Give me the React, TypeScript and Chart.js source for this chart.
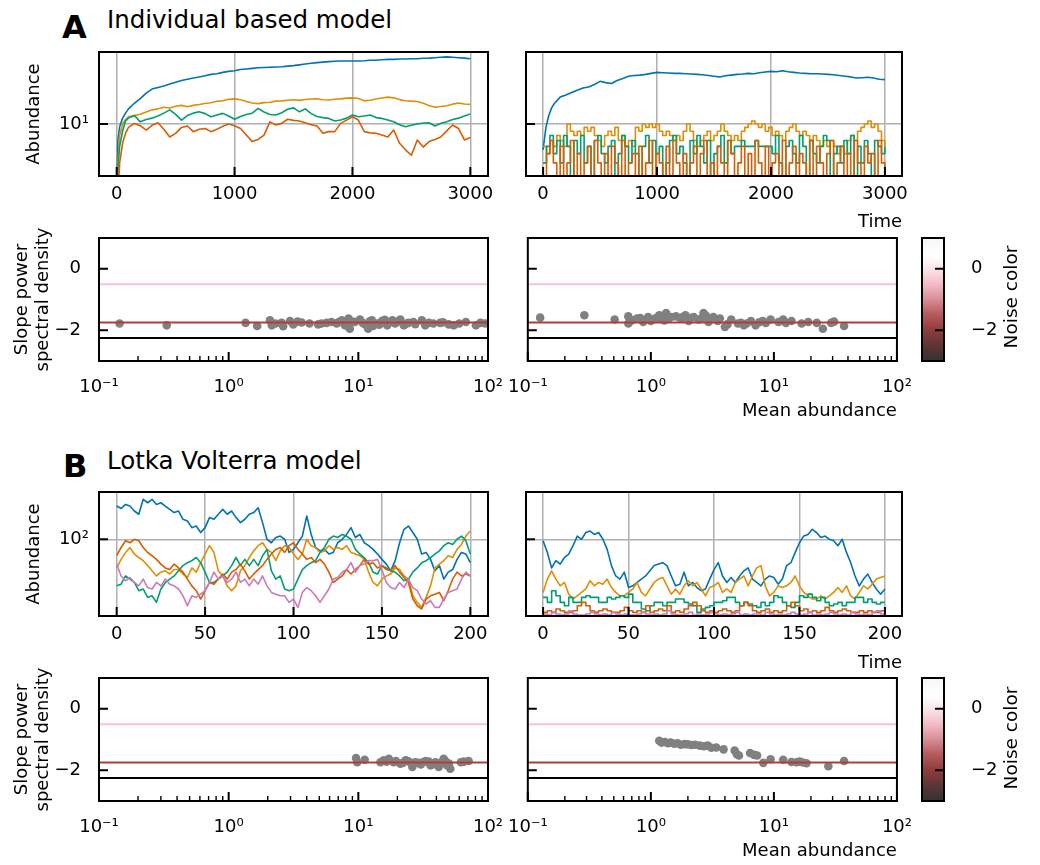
import React, { useEffect, useRef } from 'react';
import { Chart, registerables } from 'chart.js';

Chart.register(...registerables);
Chart.defaults.font.family = "'DejaVu Sans', sans-serif";
Chart.defaults.font.size = 18;
Chart.defaults.color = '#000';

// ---------------- data ----------------
const PALETTE = ['#0173B2', '#DE8F05', '#029E73', '#D55E00', '#CC78BC'];

// Individual based model: time samples
const ibmTimes = [0, 10, 25, 50, 75, 100, 150, 200, 250, 300, 350, 400, 450, 500, 550, 600, 650, 700, 750, 800, 850, 900, 950, 1000, 1050, 1100, 1150, 1200, 1250, 1300, 1350, 1400, 1450, 1500, 1550, 1600, 1650, 1700, 1750, 1800, 1850, 1900, 1950, 2000, 2050, 2100, 2150, 2200, 2250, 2300, 2350, 2400, 2450, 2500, 2550, 2600, 2650, 2700, 2750, 2800, 2850, 2900, 2950, 3000];
const ibmFineTimes = [0, 30, 60, 90, 120, 150, 180, 210, 240, 270, 300, 330, 360, 390, 420, 450, 480, 510, 540, 570, 600, 630, 660, 690, 720, 750, 780, 810, 840, 870, 900, 930, 960, 990, 1020, 1050, 1080, 1110, 1140, 1170, 1200, 1230, 1260, 1290, 1320, 1350, 1380, 1410, 1440, 1470, 1500, 1530, 1560, 1590, 1620, 1650, 1680, 1710, 1740, 1770, 1800, 1830, 1860, 1890, 1920, 1950, 1980, 2010, 2040, 2070, 2100, 2130, 2160, 2190, 2220, 2250, 2280, 2310, 2340, 2370, 2400, 2430, 2460, 2490, 2520, 2550, 2580, 2610, 2640, 2670, 2700, 2730, 2760, 2790, 2820, 2850, 2880, 2910, 2940, 2970, 3000];

const ibmLeftBlue = [1, 6, 9.2, 12, 14, 16, 19, 22, 26, 29.5, 31, 32.5, 34.5, 36.5, 38.5, 40, 41.5, 43, 44.5, 46.5, 47.5, 49.5, 51, 52, 54, 55, 56, 57, 57.5, 58, 58.5, 59, 60, 61, 62.5, 64, 65.5, 67, 68, 69, 70, 70.5, 70.5, 70.5, 70.5, 71, 72, 72, 73, 74, 74, 75, 75, 75.5, 75.5, 76.5, 77, 78, 79, 80, 79, 78, 77, 75.5];
const ibmLeftOrange = [1, 3, 7, 10, 11.5, 12.5, 13, 13.5, 14.5, 15.5, 16, 16.8, 16.4, 17.3, 17.8, 17.1, 17.8, 18.3, 18.9, 19.3, 20.2, 20.5, 21.5, 21.8, 21.2, 20.1, 19.2, 18.8, 19.4, 19.6, 20.3, 20.5, 20.9, 21.2, 20.8, 21.4, 21.7, 21.9, 21.2, 21, 21.5, 21.8, 22.3, 22.5, 22, 20.5, 20.9, 21.7, 22.4, 23, 22.5, 21.3, 20.6, 20.3, 20.1, 19, 17.8, 16.8, 17.2, 17.6, 18.5, 19.2, 18.6, 18.4];
const ibmLeftGreen = [1, 2.5, 5, 8, 11, 12, 13, 10.7, 11.5, 12, 12.8, 14, 15.5, 13.5, 11.3, 13, 14, 14.6, 13.8, 12.5, 13.2, 13.9, 12.8, 11.6, 12.6, 13.4, 14, 16.2, 14.5, 13.4, 13.2, 14.2, 15.8, 16.5, 14.6, 16, 13.8, 12.6, 12.2, 11.9, 11, 11.3, 12, 13.2, 12.5, 12.8, 13.2, 12.2, 11.9, 11.3, 10.7, 9.8, 9.2, 9.6, 10, 10.3, 10.4, 9.4, 10.2, 10.7, 11.5, 12, 12.8, 13.6];
const ibmLeftRed = [1, 1, 3, 5.5, 7.5, 9, 10.2, 9.5, 8.3, 9.6, 10.4, 8.5, 6.7, 7.5, 9, 9.4, 7.9, 8.5, 8.7, 7.9, 8.5, 9.3, 10, 9.5, 8.7, 7.1, 5.8, 6.2, 7.1, 10.7, 9.7, 10.2, 11.6, 11.2, 11, 10.4, 9.8, 9.4, 7.5, 7.9, 7.9, 10.2, 11.3, 12.5, 11.3, 7.9, 7.6, 7.5, 7.1, 6.7, 8.3, 5.5, 4.5, 3.8, 6.1, 4.9, 5.8, 6.2, 6.7, 8.1, 9.7, 8.7, 6.1, 6.6];

const ibmRightBlue = [4.5, 6, 9, 13, 16.5, 19, 23, 24.5, 26.5, 28.5, 30.5, 31.5, 34, 37.5, 36, 35, 38.5, 41, 44, 45, 45.5, 46.5, 48, 49.5, 49, 48.5, 48, 48, 47.5, 47, 46.5, 46, 45, 44, 43, 44.5, 45.5, 46.5, 47, 48, 47.5, 49, 50, 51, 50.5, 52, 50.5, 49.5, 48.5, 48, 47.5, 47.5, 47, 46.5, 46, 45, 44, 43, 41.5, 42, 42.5, 41.5, 40, 39.5];
const ibmRightOrange = [5, 4, 6, 5, 7, 6, 5, 10, 8, 7, 8, 7, 9, 8, 9, 7, 6, 5, 7, 8, 7, 9, 6, 7, 5, 6, 5, 9, 8, 10, 9, 10, 9, 10, 8, 7, 8, 7, 6, 7, 6, 8, 10, 8, 6, 5, 6, 7, 8, 6, 7, 8, 10, 8, 7, 6, 7, 6, 8, 9, 10, 11, 10, 9, 10, 8, 9, 7, 8, 7, 6, 8, 9, 10, 8, 7, 8, 7, 6, 7, 6, 5, 6, 5, 6, 5, 4, 5, 4, 6, 7, 6, 8, 9, 10, 11, 9, 10, 8, 6, 5];
const ibmRightGreen = [3, 5, 7, 4, 6, 3, 7, 5, 2, 6, 4, 7, 3, 5, 2, 6, 7, 4, 3, 5, 6, 2, 4, 7, 5, 3, 6, 4, 2, 5, 7, 3, 6, 4, 5, 2, 3, 6, 7, 4, 5, 3, 2, 6, 4, 7, 5, 3, 6, 2, 4, 5, 7, 3, 6, 4, 5, 5, 6, 5, 5, 5, 6, 5, 5, 5, 5, 4, 7, 3, 2, 5, 6, 4, 3, 7, 5, 2, 6, 4, 3, 5, 7, 6, 2, 4, 5, 3, 6, 4, 7, 2, 5, 3, 6, 4, 2, 6, 5, 4, 5];
const ibmRightRed = [2, 4, 6, 3, 2, 5, 2, 3, 6, 2, 4, 2, 3, 5, 2, 6, 3, 2, 4, 2, 5, 3, 2, 6, 2, 3, 4, 2, 5, 2, 3, 6, 2, 4, 3, 2, 5, 2, 6, 3, 2, 4, 2, 3, 5, 2, 4, 6, 2, 3, 2, 5, 3, 2, 6, 4, 2, 3, 5, 2, 4, 2, 6, 3, 2, 5, 2, 3, 4, 2, 6, 2, 3, 5, 2, 4, 3, 2, 6, 2, 5, 3, 2, 4, 6, 2, 3, 5, 2, 4, 2, 6, 3, 2, 5, 3, 4, 2, 6, 3, 2];

// Lotka Volterra model
const lvTimes = [0, 2.5, 5, 7.5, 10, 12.5, 15, 17.5, 20, 22.5, 25, 27.5, 30, 32.5, 35, 37.5, 40, 42.5, 45, 47.5, 50, 52.5, 55, 57.5, 60, 62.5, 65, 67.5, 70, 72.5, 75, 77.5, 80, 82.5, 85, 87.5, 90, 92.5, 95, 97.5, 100, 102.5, 105, 107.5, 110, 112.5, 115, 117.5, 120, 122.5, 125, 127.5, 130, 132.5, 135, 137.5, 140, 142.5, 145, 147.5, 150, 152.5, 155, 157.5, 160, 162.5, 165, 167.5, 170, 172.5, 175, 177.5, 180, 182.5, 185, 187.5, 190, 192.5, 195, 197.5, 200];

const lvLeftBlue = [246, 230, 257, 246, 215, 197, 295, 269, 295, 257, 269, 246, 225, 206, 215, 172, 164, 137, 143, 120, 137, 180, 172, 197, 225, 197, 215, 180, 157, 172, 197, 206, 235, 157, 100, 91, 105, 109, 100, 70, 76, 91, 109, 188, 114, 80, 73, 76, 67, 70, 91, 100, 114, 137, 105, 114, 91, 84, 76, 67, 58, 51, 42.5, 56, 91, 131, 143, 120, 100, 67, 70, 58, 42.5, 49, 34, 41, 44, 58, 70, 67, 53];
const lvLeftOrange = [46, 58, 70, 80, 67, 61, 56, 49, 42.5, 37, 41, 42.5, 39, 44, 44, 39, 35.5, 46, 41, 53, 67, 84, 70, 42.5, 37, 28.3, 24.8, 28.3, 42.5, 49, 61, 73, 84, 91, 76, 70, 56, 73, 84, 80, 67, 58, 67, 100, 84, 80, 70, 73, 84, 76, 80, 76, 84, 70, 67, 64, 58, 41, 31, 28.3, 34, 37, 39, 46, 44, 37, 34, 21.6, 18.1, 15.8, 20.7, 28.3, 46, 51, 56, 64, 61, 76, 87, 109, 125];
const lvLeftGreen = [28.3, 29.6, 37, 34, 31, 24.8, 26, 20.7, 21.6, 18.1, 26, 31, 34, 37, 42.5, 49, 53, 56, 61, 53, 41, 31, 31, 34, 37, 41, 49, 61, 49, 58, 49, 58, 49, 64, 76, 42.5, 34, 37, 26, 24.8, 26, 34, 44, 49, 53, 56, 70, 80, 100, 109, 105, 114, 109, 100, 76, 67, 61, 53, 41, 39, 49, 46, 42.5, 41, 37, 32.5, 34, 41, 46, 53, 56, 61, 67, 73, 84, 91, 87, 100, 109, 96, 67];
const lvLeftRed = [64, 80, 96, 91, 100, 96, 80, 70, 64, 58, 51, 46, 44, 51, 46, 41, 34, 28.3, 24.8, 19.8, 24.8, 31, 29.6, 34, 39, 34, 41, 44, 51, 42.5, 34, 39, 44, 49, 58, 67, 76, 80, 70, 84, 91, 76, 67, 58, 61, 53, 58, 51, 41, 31, 34, 37, 44, 39, 44, 49, 58, 51, 53, 46, 49, 44, 42.5, 49, 41, 35.5, 31, 19.8, 16.5, 15.1, 19.8, 21.6, 22.6, 23.7, 18.9, 24.8, 34, 41, 37, 39, 37];
const lvLeftPink = [51, 37, 32.5, 35.5, 31, 28.3, 34, 27, 26, 31, 28.3, 34, 29.6, 28.3, 26, 21.6, 16.5, 21.6, 20.7, 22.6, 24.8, 31, 41, 34, 37, 31, 34, 41, 31, 34, 28.3, 34, 29.6, 37, 28.3, 23.7, 22.6, 21.6, 21.6, 18.1, 19.8, 15.8, 23.7, 27, 24.8, 21.6, 18.1, 21.6, 26, 34, 35.5, 41, 44, 53, 41, 49, 51, 56, 56, 58, 44, 31, 27, 26, 31, 27, 34, 27, 24.8, 19.8, 17.3, 18.9, 15.8, 15.8, 19.8, 23.7, 24.8, 26, 34, 41, 37];

const lvRightBlue = [96, 70, 46, 56, 51, 61, 67, 84, 109, 100, 120, 125, 114, 120, 100, 76, 49, 37, 34, 41, 27, 28.3, 31, 34, 37, 42.5, 49, 51, 53, 49, 37, 28.3, 29.6, 41, 28.3, 31, 27, 24.8, 26, 34, 44, 53, 37, 31, 35.5, 31, 37, 42.5, 46, 34, 31, 28.3, 34, 37, 35.5, 29.6, 34, 49, 53, 70, 91, 109, 114, 131, 120, 105, 109, 100, 96, 84, 100, 70, 53, 37, 28.3, 34, 39, 31, 26, 22.6, 26];
const lvRightOrange = [23.7, 34, 42.5, 34, 28.3, 31, 22.6, 19.8, 21.6, 23.7, 26, 32.5, 28.3, 31, 29.6, 34, 27, 23.7, 21.6, 21.6, 23.7, 26, 31, 23.7, 21.6, 26, 31, 34, 35.5, 28.3, 22.6, 26, 22.6, 28.3, 32.5, 28.3, 31, 26, 21.6, 27, 28.3, 31, 23.7, 26, 23.7, 31, 34, 37, 28.3, 37, 46, 49, 28.3, 21.6, 23.7, 28.3, 27, 28.3, 31, 37, 28.3, 23.7, 21.6, 19.8, 19.8, 21.6, 19.8, 21.6, 23.7, 27, 23.7, 28.3, 21.6, 19.8, 23.7, 28.3, 26, 29.6, 34, 35.5, 37];
const lvRightGreen = [20.7, 18.1, 24.8, 21.6, 18.1, 16.5, 20.7, 18.1, 18.1, 20.7, 21.6, 20.7, 20.7, 18.1, 18.1, 20.7, 19.8, 20.7, 21.6, 20.7, 22.6, 18.1, 18.1, 15.1, 14.4, 16.5, 18.1, 18.1, 16.5, 18.1, 18.1, 19.8, 19.8, 18.1, 17.3, 16.5, 13.8, 15.1, 15.8, 16.5, 18.1, 18.1, 18.9, 20.7, 20.7, 18.1, 16.5, 18.1, 17.3, 16.5, 15.8, 18.1, 16.5, 18.1, 21.6, 20.7, 18.1, 16.5, 15.8, 18.1, 21.6, 20.7, 22.6, 20.7, 18.9, 20.7, 18.1, 16.5, 17.3, 18.1, 16.5, 18.1, 18.1, 20.7, 20.7, 18.1, 19.8, 18.1, 17.3, 18.1, 18.1];
const lvRightRed = [13.8, 14.4, 13.8, 15.1, 14.4, 13.8, 13.8, 14.4, 16.5, 18.1, 16.5, 14.4, 13.8, 14.4, 15.1, 14.4, 13.8, 13.8, 14.4, 15.8, 14.4, 13.8, 14.4, 13.8, 16.5, 13.8, 14.4, 15.1, 14.4, 16.5, 13.8, 14.4, 13.8, 15.1, 16.5, 18.1, 16.5, 14.4, 13.8, 14.4, 13.8, 14.4, 15.1, 14.4, 13.8, 14.4, 16.5, 18.1, 16.5, 14.4, 13.8, 14.4, 15.1, 13.8, 14.4, 13.8, 14.4, 16.5, 18.1, 16.5, 14.4, 15.1, 13.8, 14.4, 13.8, 14.4, 15.8, 14.4, 13.8, 14.4, 15.1, 14.4, 13.8, 13.8, 14.4, 13.8, 14.4, 13.8, 13.8, 14.4, 13.8];
const lvRightPink = [13.2, 12.8, 13.8, 13.2, 12.8, 13.2, 14.4, 13.2, 12.8, 12.8, 13.2, 13.8, 13.2, 12.8, 13.2, 12.8, 13.8, 13.2, 12.8, 13.2, 12.8, 12.8, 13.2, 13.8, 13.2, 12.8, 13.2, 12.8, 13.2, 14.4, 13.2, 12.8, 12.8, 13.2, 13.8, 12.8, 13.2, 12.8, 13.2, 13.8, 13.2, 12.8, 13.2, 12.8, 13.2, 13.8, 12.8, 13.2, 12.8, 13.2, 13.2, 12.8, 13.8, 13.2, 12.8, 13.2, 12.8, 13.2, 13.8, 13.2, 12.8, 13.2, 13.8, 12.8, 13.2, 12.8, 13.2, 13.8, 13.2, 12.8, 13.2, 12.8, 13.8, 13.2, 12.8, 13.2, 12.8, 13.8, 14.4, 13.2, 12.8];

// Scatter: mean abundance vs slope of power spectral density
const ibmLeftMean = [0.144, 0.333, 1.35, 1.66, 2.08, 2.15, 2.3, 2.56, 2.63, 2.97, 3.15, 3.4, 3.66, 4.2, 4.9, 5.2, 5.7, 6.2, 6.8, 7.0, 7.45, 7.9, 8.0, 8.4, 8.6, 9.0, 9.4, 10.3, 10.8, 11.3, 11.9, 12.2, 12.7, 13.0, 13.9, 14.5, 15.2, 16.0, 16.7, 17.5, 18.3, 19.2, 20.0, 21.1, 22.4, 23.0, 24.3, 26.6, 27.5, 30.9, 32.8, 35.0, 37.9, 42.8, 45.0, 49.8, 54.5, 60.0, 67.5, 80.7, 87.3, 95.0];
const ibmLeftSlope = [-1.78, -1.84, -1.76, -1.86, -1.68, -1.84, -1.78, -1.76, -1.87, -1.70, -1.81, -1.72, -1.75, -1.78, -1.81, -1.78, -1.76, -1.73, -1.78, -1.74, -1.68, -1.84, -1.78, -1.62, -1.95, -1.72, -1.73, -1.65, -1.76, -1.81, -1.95, -1.72, -1.68, -1.86, -1.78, -1.82, -1.70, -1.66, -1.84, -1.74, -1.68, -1.78, -1.72, -1.65, -1.84, -1.80, -1.76, -1.73, -1.80, -1.68, -1.84, -1.76, -1.78, -1.76, -1.74, -1.81, -1.84, -1.78, -1.73, -1.84, -1.76, -1.78];
const ibmRightMean = [0.126, 0.288, 0.508, 0.656, 0.656, 0.70, 0.77, 0.82, 0.865, 0.95, 1.0, 1.04, 1.1, 1.17, 1.22, 1.29, 1.33, 1.4, 1.46, 1.6, 1.75, 1.8, 1.91, 2.03, 2.1, 2.23, 2.45, 2.6, 2.68, 2.8, 2.94, 3.0, 3.22, 3.5, 3.64, 4.0, 4.2, 4.5, 5.1, 5.4, 5.7, 6.0, 6.5, 7.1, 7.6, 8.1, 8.6, 9.4, 10.9, 11.9, 12.5, 13.9, 16.8, 19.0, 22.3, 25.0, 29.2, 30.8, 37.2];
const ibmRightSlope = [-1.59, -1.51, -1.65, -1.55, -1.78, -1.68, -1.62, -1.60, -1.73, -1.57, -1.70, -1.65, -1.60, -1.51, -1.64, -1.68, -1.44, -1.62, -1.57, -1.55, -1.62, -1.58, -1.51, -1.70, -1.60, -1.57, -1.65, -1.60, -1.44, -1.52, -1.73, -1.66, -1.57, -1.70, -1.62, -1.89, -1.80, -1.65, -1.78, -1.76, -1.84, -1.78, -1.70, -1.84, -1.74, -1.70, -1.76, -1.65, -1.73, -1.65, -1.76, -1.70, -1.78, -1.73, -1.76, -1.95, -1.76, -1.72, -1.86];
const lvLeftMean = [9.6, 9.8, 11.2, 14.8, 15.7, 16.5, 17.2, 18.7, 19.5, 21.1, 22.0, 23.2, 24.5, 26.1, 27.5, 29.0, 30.3, 31.5, 33.0, 35.0, 36.0, 38.0, 39.3, 41.7, 43.0, 45.5, 47.0, 48.3, 50.0, 51.2, 61.8, 65.0, 70.9];
const lvLeftSlope = [-1.60, -1.74, -1.66, -1.74, -1.68, -1.72, -1.63, -1.74, -1.70, -1.79, -1.76, -1.68, -1.72, -1.89, -1.74, -1.76, -1.81, -1.74, -1.70, -1.72, -1.84, -1.80, -1.74, -1.89, -1.76, -1.63, -1.70, -1.84, -1.78, -1.95, -1.74, -1.72, -1.70];
const lvRightMean = [1.17, 1.22, 1.30, 1.38, 1.45, 1.55, 1.65, 1.75, 1.88, 2.0, 2.15, 2.3, 2.5, 2.7, 2.9, 3.1, 3.4, 3.9, 4.8, 5.0, 5.2, 6.4, 6.9, 7.3, 8.2, 9.4, 11.9, 13.9, 15.3, 16.2, 17.2, 18.4, 27.7, 37.2];
const lvRightSlope = [-1.04, -1.10, -1.08, -1.12, -1.10, -1.14, -1.12, -1.17, -1.15, -1.16, -1.18, -1.17, -1.20, -1.22, -1.20, -1.27, -1.26, -1.32, -1.36, -1.48, -1.52, -1.44, -1.50, -1.52, -1.76, -1.64, -1.66, -1.73, -1.74, -1.72, -1.75, -1.77, -1.87, -1.70];

// reference noise-colour lines and axis ticks
const refLineSlopes = [-0.5, -1.75, -2.25];
const refLineColors = ['#ffc0cb', '#b23c3c', '#000000'];
const decadeTicks = [0.1, 1, 10, 100];
const decadeLabels = ['10⁻¹', '10⁰', '10¹', '10²'];
const minorTicks = [0.2, 0.3, 0.4, 0.5, 0.6, 0.7, 0.8, 0.9, 2, 3, 4, 5, 6, 7, 8, 9, 20, 30, 40, 50, 60, 70, 80, 90];
const slopeTicks = [-2, 0];
const slopeLabels = ['−2', '0'];
const ibmTimeTicks = [0, 1000, 2000, 3000];
const lvTimeTicks = [0, 50, 100, 150, 200];

// colour bar (noise colour map)
const cbarStops = [-3, -2.5, -2, -1.5, -1, -0.5, 0, 0.4, 1];
const cbarColors = ['#333131', '#5c3535', '#8e3c3c', '#b4585b', '#d68e97', '#f2bcc6', '#fbe5e9', '#ffffff', '#f6f6f6'];

// ---------------- helpers ----------------
const GRID_COLOR = '#b0b0b0';
const PAD_TOP = 24;

const framePlugin = {
  id: 'frame',
  afterDraw(chart: any, _a: any, opts: any) {
    const { ctx, chartArea: a, scales } = chart;
    ctx.save();
    ctx.strokeStyle = '#000';
    const xTick = (vals: number[], len: number, w: number) => {
      ctx.lineWidth = w;
      for (const v of vals) {
        const x = scales.x.getPixelForValue(v);
        ctx.beginPath();
        ctx.moveTo(x, a.bottom);
        ctx.lineTo(x, a.bottom - len);
        ctx.stroke();
      }
    };
    if (opts.xMajor) xTick(opts.xMajor, 9, 2);
    if (opts.xMinor) xTick(opts.xMinor, 5, 1.4);
    if (opts.yMajor) {
      ctx.lineWidth = 2;
      for (const v of opts.yMajor) {
        const y = scales.y.getPixelForValue(v);
        ctx.beginPath();
        if (opts.ySide === 'right') {
          ctx.moveTo(a.right, y);
          ctx.lineTo(a.right - 9, y);
        } else {
          ctx.moveTo(a.left, y);
          ctx.lineTo(a.left + 9, y);
        }
        ctx.stroke();
      }
    }
    ctx.lineWidth = 2;
    ctx.strokeRect(a.left, a.top, a.right - a.left, a.bottom - a.top);
    ctx.restore();
  },
};

type Series = { t: number[]; v: number[]; stepped?: boolean };

function tsConfig(o: any) {
  const n = o.series.length;
  return {
    type: 'line',
    data: {
      datasets: o.series.map((s: Series, i: number) => ({
        data: s.t.map((x, j) => ({ x, y: s.v[j] })),
        borderColor: PALETTE[i],
        borderWidth: 1.6,
        borderJoinStyle: 'round',
        pointRadius: 0,
        tension: 0,
        stepped: s.stepped ? 'before' : false,
        fill: false,
        order: n - i,
      })),
    },
    options: {
      animation: false,
      responsive: false,
      events: [],
      layout: { padding: { left: 0, right: o.padRight, top: PAD_TOP, bottom: 0 } },
      plugins: {
        legend: { display: false },
        tooltip: { enabled: false },
        frame: { xMajor: o.xTicks, yMajor: [o.yTick], ySide: 'left' },
      },
      scales: {
        x: {
          type: 'linear',
          min: o.xMin,
          max: o.xMax,
          afterBuildTicks: (s: any) => { s.ticks = o.xTicks.map((v: number) => ({ value: v })); },
          afterFit: (s: any) => { s.height = o.xHeight; },
          ticks: { autoSkip: false, maxRotation: 0, padding: 8, callback: (v: any) => String(v) },
          grid: { color: GRID_COLOR, lineWidth: 1.5, drawTicks: false },
          border: { display: false },
          title: o.xTitle
            ? { display: true, text: o.xTitle, align: 'end', padding: { top: 0, bottom: o.xTitlePad } }
            : { display: false },
        },
        y: {
          type: 'logarithmic',
          min: o.yMin,
          max: o.yMax,
          afterBuildTicks: (s: any) => { s.ticks = [{ value: o.yTick }]; },
          afterFit: (s: any) => { s.width = o.yWidth; },
          ticks: { display: o.showYLabels, autoSkip: false, padding: 10, callback: () => o.yTickLabel },
          grid: { color: GRID_COLOR, lineWidth: 1.5, drawTicks: false },
          border: { display: false },
          title: o.yTitle
            ? { display: true, text: o.yTitle, padding: { top: o.yTitlePad, bottom: 0 } }
            : { display: false },
        },
      },
    },
    plugins: [framePlugin],
  };
}

function scatterConfig(o: any) {
  return {
    type: 'scatter',
    data: {
      datasets: [
        ...refLineSlopes.map((y, i) => ({
          data: [{ x: decadeTicks[0], y }, { x: decadeTicks[decadeTicks.length - 1], y }],
          showLine: true,
          borderColor: refLineColors[i],
          borderWidth: 2,
          pointRadius: 0,
          order: 0,
        })),
        {
          data: o.xs.map((x: number, i: number) => ({ x, y: o.ys[i] })),
          backgroundColor: '#808080',
          borderWidth: 0,
          pointRadius: 4.3,
          order: 1,
        },
      ],
    },
    options: {
      animation: false,
      responsive: false,
      events: [],
      layout: { padding: { left: 0, right: o.padRight, top: PAD_TOP, bottom: 0 } },
      plugins: {
        legend: { display: false },
        tooltip: { enabled: false },
        frame: { xMajor: decadeTicks, xMinor: minorTicks, yMajor: slopeTicks, ySide: 'left' },
      },
      scales: {
        x: {
          type: 'logarithmic',
          min: decadeTicks[0],
          max: decadeTicks[decadeTicks.length - 1],
          afterBuildTicks: (s: any) => { s.ticks = decadeTicks.map((v) => ({ value: v })); },
          afterFit: (s: any) => { s.height = o.xHeight; },
          ticks: {
            autoSkip: false, maxRotation: 0, padding: 8,
            callback: (v: any) => decadeLabels[decadeTicks.indexOf(Number(v))] ?? '',
          },
          grid: { display: false },
          border: { display: false },
          title: o.xTitle
            ? { display: true, text: o.xTitle, align: 'end', padding: { top: 0, bottom: o.xTitlePad } }
            : { display: false },
        },
        y: {
          type: 'linear',
          min: -3,
          max: 1,
          afterBuildTicks: (s: any) => { s.ticks = slopeTicks.map((v) => ({ value: v })); },
          afterFit: (s: any) => { s.width = o.yWidth; },
          ticks: {
            display: o.showYLabels, autoSkip: false, padding: 10,
            callback: (v: any) => slopeLabels[slopeTicks.indexOf(Number(v))] ?? '',
          },
          grid: { display: false },
          border: { display: false },
          title: o.yTitle
            ? { display: true, text: o.yTitle, padding: { top: o.yTitlePad, bottom: 0 } }
            : { display: false },
        },
      },
    },
    plugins: [framePlugin],
  };
}

function cbarGradient(chart: any) {
  const a = chart.chartArea;
  if (!a) return '#999';
  const g = chart.ctx.createLinearGradient(0, a.bottom, 0, a.top);
  const lo = cbarStops[0];
  const hi = cbarStops[cbarStops.length - 1];
  cbarStops.forEach((v, i) => g.addColorStop((v - lo) / (hi - lo), cbarColors[i]));
  return g;
}

function cbarConfig() {
  return {
    type: 'bar',
    data: {
      labels: ['noise'],
      datasets: [{
        data: [[cbarStops[0], cbarStops[cbarStops.length - 1]]],
        backgroundColor: (ctx: any) => cbarGradient(ctx.chart),
        borderWidth: 0,
        barPercentage: 1,
        categoryPercentage: 1,
      }],
    },
    options: {
      animation: false,
      responsive: false,
      events: [],
      layout: { padding: { left: 10, right: 0, top: 34, bottom: 34 } },
      plugins: {
        legend: { display: false },
        tooltip: { enabled: false },
        frame: { yMajor: slopeTicks, ySide: 'right' },
      },
      scales: {
        x: { display: false },
        y: {
          position: 'right',
          min: cbarStops[0],
          max: cbarStops[cbarStops.length - 1],
          afterBuildTicks: (s: any) => { s.ticks = slopeTicks.map((v) => ({ value: v })); },
          afterFit: (s: any) => { s.width = 96; },
          ticks: { padding: 19, callback: (v: any) => slopeLabels[slopeTicks.indexOf(Number(v))] ?? '' },
          grid: { display: false },
          border: { display: false },
        },
      },
    },
    plugins: [framePlugin],
  };
}

function ChartCanvas({ left, top, width, height, make }: any) {
  const ref = useRef<HTMLCanvasElement>(null);
  useEffect(() => {
    const chart = new Chart(ref.current as HTMLCanvasElement, make());
    return () => chart.destroy();
  }, []);
  return (
    <canvas
      ref={ref}
      width={width}
      height={height}
      style={{ position: 'absolute', left, top, width, height }}
    />
  );
}

function Label({ text, left, top, size, bold }: any) {
  return (
    <div style={{
      position: 'absolute', left, top, fontSize: size, lineHeight: 1, whiteSpace: 'nowrap',
      fontWeight: bold ? 'bold' : 'normal', fontFamily: "'DejaVu Sans', sans-serif", color: '#000',
    }}>{text}</div>
  );
}

function VLabel({ text, cx, cy }: any) {
  return (
    <div style={{
      position: 'absolute', left: cx - 100, top: cy - 12, width: 200, height: 24, lineHeight: '24px',
      textAlign: 'center', fontSize: 18.5, fontFamily: "'DejaVu Sans', sans-serif", color: '#000',
      transform: 'rotate(-90deg)', whiteSpace: 'nowrap',
    }}>{text}</div>
  );
}

const ibmLeftSeries: Series[] = [
  { t: ibmTimes, v: ibmLeftBlue },
  { t: ibmTimes, v: ibmLeftOrange },
  { t: ibmTimes, v: ibmLeftGreen },
  { t: ibmTimes, v: ibmLeftRed },
];
const ibmRightSeries: Series[] = [
  { t: ibmTimes, v: ibmRightBlue },
  { t: ibmFineTimes, v: ibmRightOrange, stepped: true },
  { t: ibmFineTimes, v: ibmRightGreen, stepped: true },
  { t: ibmFineTimes, v: ibmRightRed, stepped: true },
];
const lvLeftSeries: Series[] = [
  { t: lvTimes, v: lvLeftBlue },
  { t: lvTimes, v: lvLeftOrange },
  { t: lvTimes, v: lvLeftGreen },
  { t: lvTimes, v: lvLeftRed },
  { t: lvTimes, v: lvLeftPink },
];
const lvRightSeries: Series[] = [
  { t: lvTimes, v: lvRightBlue },
  { t: lvTimes, v: lvRightOrange },
  { t: lvTimes, v: lvRightGreen, stepped: true },
  { t: lvTimes, v: lvRightRed, stepped: true },
  { t: lvTimes, v: lvRightPink, stepped: true },
];

export default function App() {
  const ibmTS = { xMin: -150, xMax: 3150, xTicks: ibmTimeTicks, yMin: 2, yMax: 93, yTick: 10, yTickLabel: '10¹' };
  const lvTS = { xMin: -10, xMax: 210, xTicks: lvTimeTicks, yMin: 12.5, yMax: 360, yTick: 100, yTickLabel: '10²' };
  const leftCol = { padRight: 24, yWidth: 99, showYLabels: true };
  const rightCol = { padRight: 18, yWidth: 26, showYLabels: false };
  return (
    <div style={{ position: 'absolute', left: 0, top: 0, width: 1040, height: 865, background: '#fff', overflow: 'hidden' }}>
      <Label text="A" left={62} top={10.6} size={32} bold />
      <Label text="Individual based model" left={107} top={8.2} size={24.5} />
      <Label text="B" left={63} top={450.4} size={32} bold />
      <Label text="Lotka Volterra model" left={107} top={449.2} size={24.5} />

      <ChartCanvas left={0} top={52 - PAD_TOP} width={512} height={PAD_TOP + 124 + 66}
        make={() => tsConfig({ ...ibmTS, ...leftCol, series: ibmLeftSeries, xHeight: 66, yTitle: 'Abundance', yTitlePad: 23.2 })} />
      <ChartCanvas left={500} top={52 - PAD_TOP} width={420} height={PAD_TOP + 124 + 66}
        make={() => tsConfig({ ...ibmTS, ...rightCol, series: ibmRightSeries, xHeight: 66, xTitle: 'Time', xTitlePad: 9.2 })} />

      <ChartCanvas left={0} top={238 - PAD_TOP} width={512} height={PAD_TOP + 123 + 67}
        make={() => scatterConfig({ ...leftCol, xs: ibmLeftMean, ys: ibmLeftSlope, xHeight: 67, yTitle: ['Slope power', 'spectral density'], yTitlePad: 11.2 })} />
      <ChartCanvas left={500} top={238 - PAD_TOP} width={420} height={PAD_TOP + 123 + 67}
        make={() => scatterConfig({ ...rightCol, xs: ibmRightMean, ys: ibmRightSlope, xHeight: 67, xTitle: 'Mean abundance', xTitlePad: 6.2 })} />
      <ChartCanvas left={912} top={238 - 34} width={128} height={34 + 123 + 34} make={() => cbarConfig()} />
      <VLabel text="Noise color" cx={1011} cy={297} />

      <ChartCanvas left={0} top={492 - PAD_TOP} width={512} height={PAD_TOP + 124 + 66}
        make={() => tsConfig({ ...lvTS, ...leftCol, series: lvLeftSeries, xHeight: 66, yTitle: 'Abundance', yTitlePad: 23.2 })} />
      <ChartCanvas left={500} top={492 - PAD_TOP} width={420} height={PAD_TOP + 124 + 66}
        make={() => tsConfig({ ...lvTS, ...rightCol, series: lvRightSeries, xHeight: 66, xTitle: 'Time', xTitlePad: 8.2 })} />

      <ChartCanvas left={0} top={678 - PAD_TOP} width={512} height={PAD_TOP + 123 + 64}
        make={() => scatterConfig({ ...leftCol, xs: lvLeftMean, ys: lvLeftSlope, xHeight: 64, yTitle: ['Slope power', 'spectral density'], yTitlePad: 11.2 })} />
      <ChartCanvas left={500} top={678 - PAD_TOP} width={420} height={PAD_TOP + 123 + 64}
        make={() => scatterConfig({ ...rightCol, xs: lvRightMean, ys: lvRightSlope, xHeight: 64, xTitle: 'Mean abundance', xTitlePad: 3.2 })} />
      <ChartCanvas left={912} top={678 - 34} width={128} height={34 + 123 + 34} make={() => cbarConfig()} />
      <VLabel text="Noise color" cx={1011} cy={738} />
    </div>
  );
}
